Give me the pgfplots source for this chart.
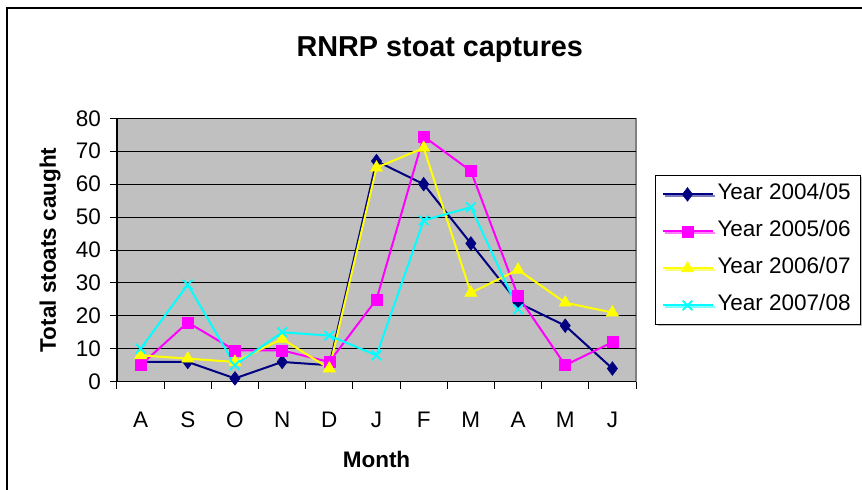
\documentclass[border=0pt]{standalone}
\usepackage{fontspec}
\setmainfont{Liberation Sans}
\usepackage{pgfplots}
\pgfplotsset{compat=1.18}
\usetikzlibrary{shadows,calc}
\definecolor{plotbg}{HTML}{C0C0C0}
\definecolor{plotborder}{HTML}{808080}
\definecolor{sNavy}{HTML}{000080}
\definecolor{sMag}{HTML}{FF00FF}
\definecolor{sYel}{HTML}{FFFF00}
\definecolor{sCyan}{HTML}{00FFFF}
\begin{document}
\begin{tikzpicture}
\begin{axis}[
  name=ax,
  at={(0,0)}, anchor=south west,
  scale only axis, width=259.5pt, height=131.7pt,
  xmin=0.5, xmax=11.5, ymin=0, ymax=80,
  axis lines=left, axis line style={-, black, line width=0.6pt},
  axis background/.style={fill=plotbg, draw=plotborder, line width=0.6pt},
  xtick={1,...,11},
  xticklabels={A,S,O,N,D,J,F,M,A,M,J},
  minor xtick={0.5,1.5,...,11.5},
  ytick={0,10,...,80},
  tick align=outside,
  major tick length=3.5pt, minor tick length=3.5pt,
  x tick style={draw=none},
  minor x tick style={draw=black, line width=0.5pt},
  y tick style={black, line width=0.5pt},
  ymajorgrids, grid style={black, line width=0.5pt},
  tick label style={font=\fontsize{11.25}{13}\selectfont},
  /pgf/number format/assume math mode=true,
  xticklabel style={yshift=-8pt},
  yticklabel style={xshift=-1pt},
  title={RNRP stoat captures},
  title style={font=\fontsize{14.4}{16}\selectfont\bfseries, at={(rel axis cs:0.622,1.214)}, anchor=center},
  xlabel={Month},
  xlabel style={font=\fontsize{11.25}{13}\selectfont\bfseries, at={(rel axis cs:0.5,-0.297)}, anchor=center},
  ylabel={Total stoats caught},
  ylabel style={font=\fontsize{11.25}{13}\selectfont\bfseries, at={(rel axis cs:-0.129,0.5)}, anchor=center},
  legend style={at={(rel axis cs:1.0366,0.785)}, anchor=north west,
    draw=black, line width=0.5pt, fill=white,
    drop shadow={shadow xshift=1pt, shadow yshift=-1pt, fill=gray},
    font=\fontsize{11.25}{13}\selectfont,
    inner xsep=3pt, inner ysep=4.25pt,
    nodes={text height=8pt, text depth=2.5pt, inner ysep=0pt, inner xsep=2pt},
    row sep=8pt},
  legend cell align=left,
  legend image code/.code={\draw[mark repeat=2,mark phase=2] plot coordinates {(0pt,0pt) (12.5pt,0pt) (25pt,0pt)};},
  every axis plot/.append style={line width=1pt},
]
\addplot[color=sNavy, mark=diamond*, mark size=3.4pt, mark options={fill=sNavy, draw=sNavy, line width=0.3pt}]
  coordinates {(1,6) (2,6) (3,1) (4,6) (5,5) (6,67) (7,60) (8,42) (9,24) (10,17) (11,4)};
\addlegendentry{Year 2004/05}
\addplot[color=sMag, mark=square*, mark size=2.75pt, mark options={fill=sMag, draw=sMag, line width=0.3pt}]
  coordinates {(1,5) (2,18) (3,9.5) (4,9.5) (5,6) (6,25) (7,74.5) (8,64) (9,26) (10,5) (11,12)};
\addlegendentry{Year 2005/06}
\addplot[color=sYel, mark=triangle*, mark size=3.5pt, mark options={fill=sYel, draw=sYel, line width=0.3pt}]
  coordinates {(1,8) (2,7) (3,6) (4,13) (5,4) (6,65) (7,71) (8,27) (9,34) (10,24) (11,21)};
\addlegendentry{Year 2006/07}
\addplot[color=sCyan, mark=x, mark size=3.4pt, mark options={draw=sCyan, line width=0.9pt}]
  coordinates {(1,10) (2,29.5) (3,5) (4,15) (5,14) (6,8) (7,49) (8,53) (9,22)};
\addlegendentry{Year 2007/08}
\end{axis}
\coordinate (O) at ($(ax.south west)+(-58.5pt,-54.15pt)$);
\draw[line width=1pt] ($(O)+(3.5pt,-10pt)$) -- ($(O)+(3.5pt,241pt)$) -- ($(O)+(440pt,241pt)$);
\pgfresetboundingbox
\useasboundingbox (O) rectangle ($(O)+(431pt,245pt)$);
\end{tikzpicture}
\end{document}
